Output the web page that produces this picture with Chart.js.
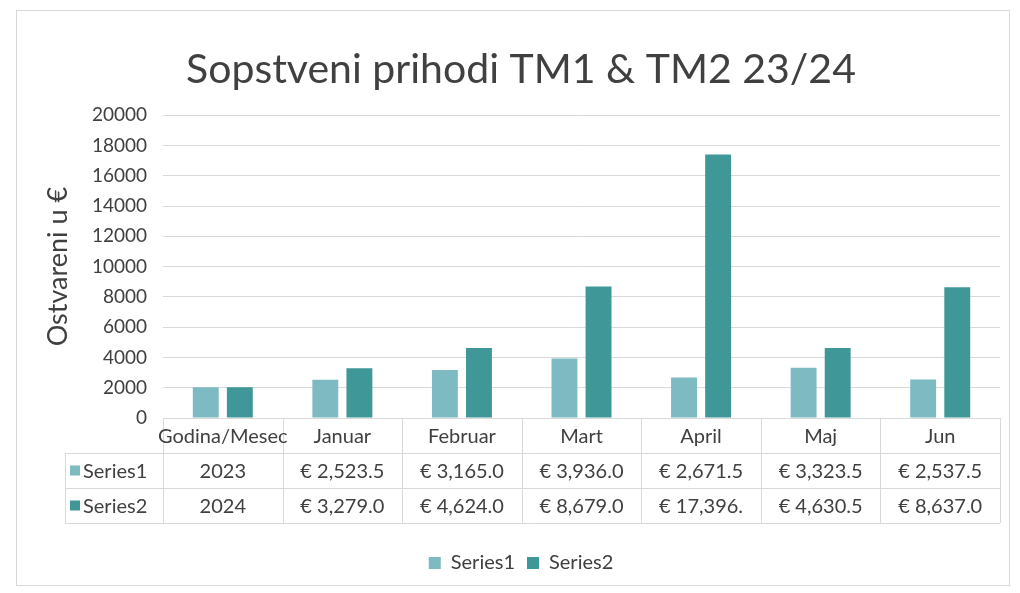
<!DOCTYPE html>
<html>
<head>
<meta charset="utf-8">
<script src="https://cdn.jsdelivr.net/npm/chart.js@4"></script>
<style>
  html, body { margin: 0; padding: 0; background: #fff; }
  #wrap { position: relative; width: 1020px; height: 593px; }
  #frame { position: absolute; left: 16px; top: 10px; width: 992px; height: 574px; border: 1px solid #d9d9d9; pointer-events: none; }
</style>
</head>
<body>
<div id="wrap">
  <canvas id="prihodi" width="1020" height="593"></canvas>
  <div id="frame"></div>
</div>
<script>
// podaci
var categories = ['Godina/Mesec', 'Januar', 'Februar', 'Mart', 'April', 'Maj', 'Jun'];
var series1 = [2023, 2523.5, 3165.0, 3936.0, 2671.5, 3323.5, 2537.5];
var series2 = [2024, 3279.0, 4624.0, 8679.0, 17396.0, 4630.5, 8637.0];
var seriesNames = ['Series1', 'Series2'];
var seriesColors = ['#7dbac2', '#3f9797'];

var fontName = 'Lato, "Noto Sans", sans-serif';
var textColor = '#404040';

// tekst u tabeli: prva kolona je godina, ostale su iznosi u evrima
function cellText(value, index) {
	if (index == 0) return String(value);
	var txt = '€ ' + value.toLocaleString('en-US', { minimumFractionDigits: 1, maximumFractionDigits: 1 });
	return txt.slice(0, 9); // Excel odsece predugacak tekst u celiji
}

// tabela podataka ispod x ose
var dataTablePlugin = {
	id: 'dataTable',
	afterDraw(chart) {
		var ctx = chart.ctx;
		var area = chart.chartArea;
		var rowH = 35;
		var top = Math.round(area.bottom);
		var keyLeft = 65;
		var colW = (area.right - area.left) / categories.length;
		var rows = [series1, series2];

		ctx.save();
		ctx.strokeStyle = '#d9d9d9';
		ctx.lineWidth = 1;
		ctx.beginPath();
		// horizontalne linije
		ctx.moveTo(area.left, top + 0.5);
		ctx.lineTo(area.right, top + 0.5);
		for (var r = 1; r <= 3; r++) {
			ctx.moveTo(keyLeft, top + r * rowH + 0.5);
			ctx.lineTo(area.right, top + r * rowH + 0.5);
		}
		// vertikalne linije
		ctx.moveTo(keyLeft + 0.5, top + rowH);
		ctx.lineTo(keyLeft + 0.5, top + 3 * rowH);
		for (var c = 0; c <= categories.length; c++) {
			var lx = Math.round(area.left + c * colW) + 0.5;
			ctx.moveTo(lx, top);
			ctx.lineTo(lx, top + 3 * rowH);
		}
		ctx.stroke();

		ctx.fillStyle = textColor;
		ctx.font = '20px ' + fontName;
		ctx.textAlign = 'center';
		ctx.textBaseline = 'middle';
		categories.forEach((cat, i) => {
			var cx = chart.scales.x.getPixelForValue(i);
			ctx.fillText(cat, cx, top + rowH / 2 + 1);
			rows.forEach((vals, r) => {
				ctx.fillText(cellText(vals[i], i), cx, top + (r + 1.5) * rowH + 1);
			});
		});

		// legenda u prvoj koloni
		ctx.textAlign = 'left';
		rows.forEach((vals, r) => {
			var cy = top + (r + 1.5) * rowH;
			ctx.fillStyle = seriesColors[r];
			ctx.fillRect(keyLeft + 5, cy - 5, 10, 10);
			ctx.fillStyle = textColor;
			ctx.fillText(seriesNames[r], keyLeft + 18, cy + 1);
		});
		ctx.restore();
	}
};

var prihodiChart = new Chart(document.getElementById('prihodi'), {
	type: 'bar',
	data: {
		labels: categories,
		datasets: [{
			label: seriesNames[0],
			data: series1,
			backgroundColor: seriesColors[0]
		}, {
			label: seriesNames[1],
			data: series2,
			backgroundColor: seriesColors[1]
		}]
	},
	options: {
		responsive: false,
		animation: false,
		categoryPercentage: 0.57,
		barPercentage: 0.76,
		layout: {
			padding: { top: 45, left: 42, right: 20, bottom: 10 }
		},
		plugins: {
			title: {
				display: true,
				text: 'Sopstveni prihodi TM1 & TM2 23/24',
				color: textColor,
				font: { size: 41, family: fontName, weight: 'normal' },
				padding: { top: 0, bottom: 21 }
			},
			legend: {
				position: 'bottom',
				labels: {
					boxWidth: 12,
					boxHeight: 12,
					color: textColor,
					font: { size: 20, family: fontName },
					padding: 12
				}
			},
			tooltip: { enabled: false }
		},
		scales: {
			x: {
				grid: { display: false },
				border: { display: false },
				ticks: { display: false },
				afterFit(scale) { scale.height = 123; }
			},
			y: {
				min: 0,
				max: 20000,
				ticks: {
					stepSize: 2000,
					color: textColor,
					font: { size: 19, family: fontName },
					padding: 16,
					callback: (value) => String(value)
				},
				grid: { color: '#d9d9d9', drawTicks: false },
				border: { display: false },
				title: {
					display: true,
					text: 'Ostvareni u €',
					color: textColor,
					font: { size: 27, family: fontName },
					padding: 0
				},
				afterFit(scale) { scale.width = 121; }
			}
		}
	},
	plugins: [dataTablePlugin]
});
</script>
</body>
</html>
